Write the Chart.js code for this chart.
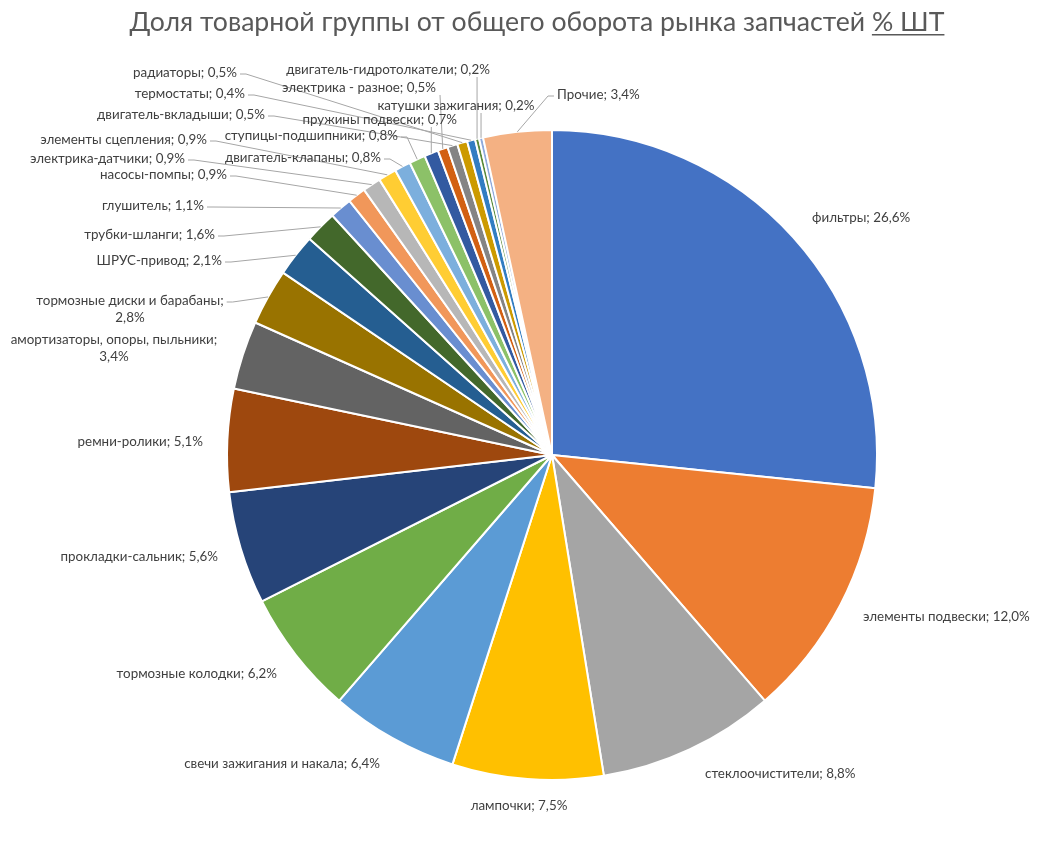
<!DOCTYPE html>
<html>
<head>
<meta charset="utf-8">
<script src="https://cdn.jsdelivr.net/npm/chart.js@4.4.1/dist/chart.umd.min.js"></script>
<style>
html,body{margin:0;padding:0;background:#fff;}
#wrap{position:relative;width:1040px;height:858px;}
</style>
</head>
<body>
<div id="wrap"><canvas id="c" width="1040" height="858"></canvas></div>
<script>
const titleMain = 'Доля товарной группы от общего оборота рынка запчастей ';
const titleUnderlined = '% ШТ';

const categories = [
  'фильтры','элементы подвески','стеклоочистители','лампочки',
  'свечи зажигания и накала','тормозные колодки','прокладки-сальник','ремни-ролики',
  'амортизаторы, опоры, пыльники','тормозные диски и барабаны','ШРУС-привод','трубки-шланги',
  'глушитель','насосы-помпы','электрика-датчики','элементы сцепления',
  'двигатель-клапаны','ступицы-подшипники','пружины подвески','электрика - разное',
  'двигатель-вкладыши','радиаторы','термостаты','двигатель-гидротолкатели',
  'катушки зажигания','Прочие'
];
const values = [
  26.6, 12.0, 8.8, 7.5,
  6.4, 6.2, 5.6, 5.1,
  3.4, 2.8, 2.1, 1.6,
  1.1, 0.9, 0.9, 0.9,
  0.8, 0.8, 0.7, 0.5,
  0.5, 0.5, 0.4, 0.2,
  0.2, 3.4
];
const colors = [
  '#4472C4','#ED7D31','#A5A5A5','#FFC000','#5B9BD5','#70AD47',
  '#264478','#9E480E','#636363','#997300','#255E91','#43682B',
  '#698ED0','#F1975A','#B7B7B7','#FFCD33','#7CAFDD','#8CC168',
  '#335AA1','#D26012','#848484','#CC9A00','#327DC2','#5A8A39',
  '#8FAADC','#F4B183'
];

// label placement (a: anchor r/l/c, x,y: anchor point, lead: leader-line style, wrap: two lines)
const labelLayout = [
  {a:'l', x:812, y:218, lead:'none'},
  {a:'l', x:863, y:617, lead:'none'},
  {a:'l', x:705, y:774, lead:'none'},
  {a:'c', x:519, y:806, lead:'none'},
  {a:'r', x:380, y:764, lead:'none'},
  {a:'r', x:277, y:674, lead:'none'},
  {a:'r', x:218, y:557, lead:'none'},
  {a:'r', x:203, y:442, lead:'none'},
  {a:'c', x:114, y:340, lead:'none', wrap:true},
  {a:'c', x:130, y:301, lead:'side', wrap:true},
  {a:'r', x:222, y:261, lead:'side'},
  {a:'r', x:215, y:235, lead:'side'},
  {a:'r', x:204, y:206, lead:'side'},
  {a:'r', x:227, y:175, lead:'side'},
  {a:'r', x:185, y:159, lead:'side'},
  {a:'r', x:207, y:140, lead:'side'},
  {a:'r', x:381, y:158, lead:'side'},
  {a:'r', x:398, y:136, lead:'side'},
  {a:'r', x:457, y:120, lead:'down'},
  {a:'r', x:436, y:88, lead:'down'},
  {a:'r', x:265, y:115, lead:'side'},
  {a:'r', x:237, y:73, lead:'side'},
  {a:'r', x:245, y:94, lead:'side'},
  {a:'c', x:388, y:70, lead:'down'},
  {a:'c', x:456, y:106, lead:'down'},
  {a:'l', x:557, y:95, lead:'left'}
];

function fmt(v){ return v.toFixed(1).replace('.', ',') + '%'; }

let labelFont = 13;
let titleFont = 24;

const labelPlugin = {
  id: 'sliceLabels',
  afterDatasetsDraw(chart){
    const ctx = chart.ctx;
    const meta = chart.getDatasetMeta(0);
    ctx.save();
    ctx.font = '13px Lato, "Open Sans", sans-serif';
    const w13 = ctx.measureText('элементы подвески; 12,0%').width;
    labelFont = 13 * 167 / w13;
    const fontStr = labelFont.toFixed(2) + 'px Lato, "Open Sans", sans-serif';
    ctx.font = fontStr;
    ctx.textBaseline = 'middle';
    const items = [];
    meta.data.forEach((arc, i) => {
      const L = labelLayout[i];
      const full = categories[i] + '; ' + fmt(values[i]);
      const lines = L.wrap ? [categories[i] + ';', fmt(values[i])] : [full];
      const lh = 17;
      const widths = lines.map(t => ctx.measureText(t).width);
      const w0 = widths[0];
      let left, right;
      if (L.a === 'l'){ left = L.x; right = L.x + w0; }
      else if (L.a === 'r'){ left = L.x - w0; right = L.x; }
      else { left = L.x - w0/2; right = L.x + w0/2; }
      const mid = (arc.startAngle + arc.endAngle) / 2;
      const px = arc.x + Math.cos(mid) * arc.outerRadius;
      const py = arc.y + Math.sin(mid) * arc.outerRadius;
      items.push({L, lines, widths, left, right, px, py, lh});
    });
    ctx.strokeStyle = '#A6A6A6';
    ctx.lineWidth = 1;
    items.forEach(it => {
      const L = it.L;
      if (L.lead === 'none') return;
      ctx.beginPath();
      if (L.lead === 'side'){
        const sx = it.right + 3, sy = L.y + 1;
        ctx.moveTo(sx, sy);
        ctx.lineTo(sx + 6, sy);
        ctx.lineTo(it.px, it.py);
      } else if (L.lead === 'left'){
        const sx = it.left - 3, sy = L.y + 1;
        ctx.moveTo(sx, sy);
        ctx.lineTo(sx - 6, sy);
        ctx.lineTo(it.px, it.py);
      } else if (L.lead === 'down'){
        const sx = Math.min(Math.max(it.px, it.left), it.right + 4);
        const sy = L.y + 7;
        ctx.moveTo(sx, sy);
        ctx.lineTo(it.px, it.py);
      }
      ctx.stroke();
    });
    ctx.fillStyle = '#404040';
    items.forEach(it => {
      const L = it.L;
      it.lines.forEach((t, k) => {
        const y = L.y + k * it.lh;
        if (it.lines.length > 1){
          ctx.textAlign = 'center';
        } else {
          ctx.textAlign = L.a === 'l' ? 'left' : (L.a === 'r' ? 'right' : 'center');
        }
        ctx.fillText(t, L.x, y);
      });
    });
    // title
    ctx.font = '24px Lato, "Open Sans", sans-serif';
    const wt24 = ctx.measureText(titleMain + titleUnderlined).width;
    titleFont = Math.min(28, 24 * 815 / wt24);
    ctx.font = titleFont.toFixed(2) + 'px Lato, "Open Sans", sans-serif';
    const wMain = ctx.measureText(titleMain).width;
    const wU = ctx.measureText(titleUnderlined).width;
    const tx = 537 - (wMain + wU) / 2;
    ctx.fillStyle = '#595959';
    ctx.textAlign = 'left';
    ctx.textBaseline = 'alphabetic';
    ctx.fillText(titleMain, tx, 31);
    ctx.fillText(titleUnderlined, tx + wMain, 31);
    ctx.fillRect(tx + wMain, 34, wU, 1.5);
    ctx.restore();
  }
};

new Chart(document.getElementById('c'), {
  type: 'pie',
  data: {
    labels: categories,
    datasets: [{
      data: values,
      backgroundColor: colors,
      borderColor: '#FFFFFF',
      borderWidth: 2
    }]
  },
  options: {
    responsive: false,
    animation: false,
    events: [],
    layout: { padding: { top: 129, bottom: 77, left: 226, right: 162 } },
    plugins: {
      legend: { display: false },
      title: { display: false },
      tooltip: { enabled: false }
    }
  },
  plugins: [labelPlugin]
});
</script>
</body>
</html>
